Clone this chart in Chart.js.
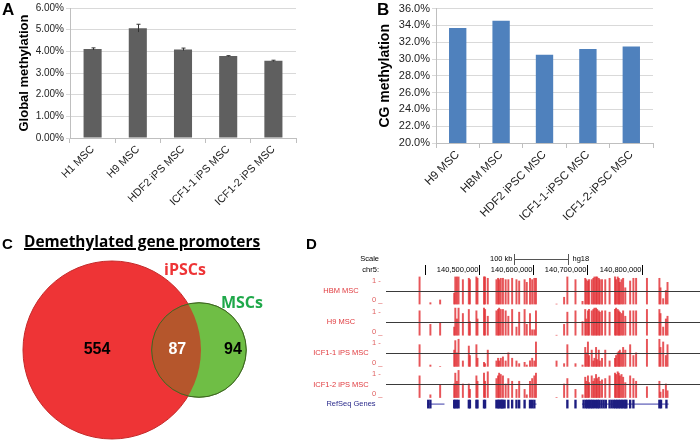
<!DOCTYPE html>
<html><head><meta charset="utf-8">
<script src="https://cdn.jsdelivr.net/npm/chart.js@4.4.1/dist/chart.umd.min.js"></script>
<style>
html,body{margin:0;padding:0;background:#fff;}
body{width:700px;height:442px;position:relative;overflow:hidden;font-family:"Liberation Sans",Arial,sans-serif;}
canvas{position:absolute;}
.lbl{position:absolute;font-weight:bold;color:#000;line-height:1;z-index:2;white-space:nowrap;}
</style></head><body>
<div class="lbl" style="left:2px;top:1px;font-size:17px">A</div>
<div class="lbl" style="left:377px;top:1px;font-size:17px">B</div>
<div class="lbl" style="left:2px;top:236px;font-size:15px">C</div>
<div class="lbl" style="left:306px;top:236px;font-size:15px">D</div>
<div class="lbl" id="ctitle" style="left:24px;top:234px;font-size:15.4px;font-family:'Open Sans',sans-serif;text-decoration:underline;text-decoration-thickness:1.5px;text-underline-offset:1px">Demethylated gene promoters</div>
<canvas id="cA" width="350" height="220" style="left:0;top:0"></canvas>
<canvas id="cB" width="350" height="220" style="left:350px;top:0"></canvas>
<canvas id="cC" width="300" height="200" style="left:0;top:250px"></canvas>
<canvas id="cD" width="400" height="190" style="left:300px;top:228px"></canvas>
<script>
// ---------- DATA ----------
const catA = ['H1 MSC','H9 MSC','HDF2 iPS MSC','ICF1-1 iPS MSC','ICF1-2 iPS MSC'];
const valA = [4.11, 5.07, 4.09, 3.78, 3.56];
const errA = [0.05, 0.18, 0.06, 0.02, 0.03];

const catB = ['H9 MSC','HBM MSC','HDF2 iPSC MSC','ICF1-1-iPSC MSC','ICF1-2-iPSC MSC'];
const valB = [33.7, 34.55, 30.5, 31.2, 31.5];

const vennSets = ['iPSCs','MSCs'];
const vennOnly = [554, 94];
const vennShared = 87;

const trackNames = ['HBM MSC','H9 MSC','ICF1-1 iPS MSC','ICF1-2 iPS MSC'];
const dPos = [140390,140410,140428,140454,140456,140459,140462,140470,140481,140483,140495,140497,140509,140511,140516,140532,140535,140537,140540,140544,140549,140554,140561,140569,140574,140584,140588,140594,140598,140602,140605,140643,140657,140663,140678,140691,140696,140698,140701,140703,140708,140711,140713,140716,140718,140721,140723,140727,140733,140741,140751,140753,140756,140758,140760,140763,140766,140770,140779,140785,140790,140810,140833,140835,140840,140845,140848];
const dHBM = [1.0,0.05,0.15,0.4,1.0,1.0,1.0,0.9,0.95,0.9,1.0,0.95,1.0,1.0,0.95,0.9,0.95,0.9,0.95,0.95,0.9,0.9,0.95,0.9,0.85,0.9,0.8,0.95,0.9,0.95,0.95,0,0.25,1.0,0.9,0.1,0.95,0.9,0.85,0.9,0.9,0.95,1.0,1.0,1.0,0.95,0.9,0.9,0.9,0.95,1.0,0.9,1.0,0.95,0.8,0.9,0.95,0.6,0.85,0.95,0.95,0.95,0.95,0.6,0.2,0.5,0.8];
const dH9 = [0.9,0.4,0.45,0.3,1.0,0.6,1.0,0.8,0.95,0.5,0.9,0.6,1.0,0.95,0.7,0.9,0.95,1.0,0.95,0.95,0.9,0.7,0.95,0.3,0.85,0.95,0.4,0.8,0.2,0.2,0.9,0,0.4,0.85,0.9,0.5,0.95,0.6,0.9,0.95,0.9,0.95,1.0,1.0,0.95,0.9,0.85,0.9,0.9,0.85,0.95,1.0,0.95,0.9,0.85,0.8,0.9,0.7,0.9,0.9,0.9,0.95,0.95,0.8,0.3,0.6,0.7];
const dICF11 = [0.8,0.05,0,0.6,0.95,0.5,1.0,0.2,0.75,0.4,0.8,0.3,0.15,0.1,0.6,0.2,0.3,0.2,0.3,0.35,0.2,0.5,0.3,0.2,0.1,0.15,0.05,0.2,0.3,0.2,0.9,0.2,0.1,0.8,0.1,0.05,0.7,0.5,0.9,0.4,0.6,0.2,0.3,0.7,0.25,0.6,0.2,0.3,0.6,0.2,0.3,0.4,0.5,0.55,0.6,0.5,0.7,0.6,0.8,0.4,0.5,1.0,1.0,0.7,0.9,0.4,0.8];
const dICF12 = [0.8,0.1,0.45,0.5,0.9,0.6,1.0,0.5,0.5,0.3,0.8,0.6,0.9,0.6,0.95,0.7,0.8,0.9,0.85,0.8,0.5,0.7,0.6,0.3,0.6,0.3,0.1,0.6,0.7,0.8,0.9,0,0.5,0.7,0.3,0.1,0.75,0.6,0.8,0.55,0.8,0.6,0.7,0.85,0.7,0.75,0.6,0.65,0.7,0.8,0.9,0.85,0.95,0.9,0.8,0.85,0.75,0.55,0.8,0.7,0.6,0.4,0.6,0.2,0.3,0.5,0.25];
const exonPos = [140406,140410,140454,140456,140459,140462,140481,140483,140495,140497,140509,140511,140532,140535,140537,140540,140542,140544,140547,140554,140561,140569,140574,140584,140594,140598,140602,140663,140678,140693,140697,140700,140703,140706,140709,140712,140716,140719,140722,140726,140730,140734,140741,140745,140749,140752,140755,140758,140761,140764,140767,140770,140772,140779,140785,140833,140836,140846];
const geneSpans = [[140404,140436],[140592,140606],[140690,140850]];
const chrTicks = [140400,140500,140600,140700,140800];
const scaleBar = [140564,140664];

// ---------- COMMON ----------
const FAM = '"Liberation Sans", Arial, sans-serif';
Chart.defaults.font.family = FAM;
Chart.defaults.animation = false;

const errorBars = {
  id:'errorBars',
  afterDatasetsDraw(chart, args, opts){
    if(!opts.err) return;
    const {ctx} = chart; const ys = chart.scales.y;
    const meta = chart.getDatasetMeta(0);
    const vals = chart.data.datasets[0].data;
    ctx.save(); ctx.strokeStyle='#333'; ctx.lineWidth=1;
    meta.data.forEach((bar,i)=>{
      const t = ys.getPixelForValue(vals[i]+opts.err[i]);
      const b = ys.getPixelForValue(vals[i]-opts.err[i]);
      const x = Math.round(bar.x)+0.5;
      ctx.beginPath(); ctx.moveTo(x,t); ctx.lineTo(x,b);
      ctx.moveTo(x-2,t); ctx.lineTo(x+2,t); ctx.stroke();
    });
    ctx.restore();
  }
};

function barChart(id, labels, values, color, yOpts, layoutPad, yWidth, xHeight, titleText, titleSize, titlePad, xTickSize, err){
  return new Chart(document.getElementById(id), {
    type:'bar',
    data:{labels, datasets:[{data:values, backgroundColor:color, barPercentage:0.4, categoryPercentage:1}]},
    options:{
      responsive:false,
      layout:{padding:layoutPad},
      plugins:{legend:{display:false}, tooltip:{enabled:false}, errorBars:{err}},
      scales:{
        x:{
          grid:{display:true, drawOnChartArea:false, drawTicks:true, tickLength:5, color:'#bfbfbf', offset:true},
          border:{color:'#bfbfbf'},
          ticks:{autoSkip:false, minRotation:45, maxRotation:45, font:{size:xTickSize}, color:'#222', padding:0},
          afterFit(s){ s.height = xHeight; }
        },
        y:Object.assign({
          grid:{color:'#d9d9d9', tickLength:4},
          border:{color:'#bfbfbf'},
          title:{display:true, text:titleText, font:{size:titleSize, weight:'bold'}, color:'#000', padding:{top:titlePad, bottom:0}},
          afterFit(s){ s.width = yWidth; }
        }, yOpts)
      }
    },
    plugins: err ? [errorBars] : []
  });
}

// Panel A
barChart('cA', catA, valA, '#5f5f5f', {min:0, max:6, ticks:{stepSize:1, callback:v=>v.toFixed(2)+'%', font:{size:10}, color:'#222', padding:2}},
  {left:0, top:6, right:54, bottom:0}, 70, 82, 'Global methylation', 13, 17, 10.8, errA);

// Panel B
barChart('cB', catB, valB, '#4f81bd', {min:20, max:36, ticks:{stepSize:2, callback:v=>v.toFixed(1)+'%', font:{size:11}, color:'#222', padding:2}},
  {left:0, top:6, right:47, bottom:0}, 86, 77, 'CG methylation', 14, 27, 11.5, null);

// Panel C (Venn)
const vennTotals = vennOnly.map(n=>n+vennShared);
const vennPlugin = {
  id:'venn',
  afterDatasetsDraw(chart){
    const {ctx} = chart;
    const [a,b] = chart.getDatasetMeta(0).data;
    const ra = a.options.radius, rb = b.options.radius;
    ctx.save();
    ctx.beginPath(); ctx.arc(a.x,a.y,ra,0,Math.PI*2); ctx.clip();
    ctx.beginPath(); ctx.arc(b.x,b.y,rb,0,Math.PI*2);
    ctx.fillStyle='#b5562c'; ctx.fill();
    ctx.restore();
    ctx.save();
    ctx.beginPath(); ctx.arc(b.x,b.y,rb,0,Math.PI*2);
    ctx.strokeStyle='rgba(60,90,30,0.8)'; ctx.lineWidth=1; ctx.stroke();
    ctx.textAlign='center'; ctx.textBaseline='middle';
    ctx.font='bold 16px '+FAM;
    ctx.fillStyle='#000'; ctx.fillText(String(vennOnly[0]), a.x-15, a.y);
    ctx.fillStyle='#fff'; ctx.fillText(String(vennShared), ((b.x-rb)+(a.x+ra))/2+1, a.y);
    ctx.fillStyle='#000'; ctx.fillText(String(vennOnly[1]), b.x+34, a.y);
    ctx.font='bold 16px "Open Sans", sans-serif';
    ctx.fillStyle='#ee3436'; ctx.fillText(vennSets[0], a.x+73, a.y-80);
    ctx.fillStyle='#1fa84a'; ctx.fillText(vennSets[1], b.x+43, a.y-47);
    ctx.restore();
  }
};
new Chart(document.getElementById('cC'), {
  type:'bubble',
  data:{datasets:[{
    data: vennTotals.map((n,i)=>({x:i, y:0, r:Math.sqrt(n)*3.515})),
    backgroundColor:['#ee3436','#6fbe45'],
    borderColor:['#c42a2a','#4d8f30'],
    borderWidth:1, clip:false
  }]},
  options:{responsive:false, layout:{padding:0, autoPadding:false},
    plugins:{legend:{display:false}, tooltip:{enabled:false}},
    scales:{x:{display:false, min:-1.287, max:2.161}, y:{display:false, min:-1, max:1}}},
  plugins:[vennPlugin]
});

// Panel D (genome browser tracks)
const trackBase = [3.4, 2.4, 1.4, 0.4];
const trackVals = [dHBM, dH9, dICF11, dICF12];
const hScale = 0.87;
const dDatasets = trackVals.map((vals,k)=>({
  type:'bar',
  data: dPos.map((p,i)=>({x:p, y:[trackBase[k], trackBase[k]+hScale*vals[i]]})),
  backgroundColor:'rgba(226,48,52,0.82)', barThickness:1.3, grouped:false
}));
dDatasets.push({
  type:'bar',
  data: exonPos.map(p=>({x:p, y:[0.06, 0.32]})),
  backgroundColor:'#1d1d80', barThickness:1.7, grouped:false
});
const intronData = [];
geneSpans.forEach(([s,e])=>{ intronData.push({x:s,y:0.19},{x:e,y:0.19},{x:e,y:null}); });
dDatasets.push({type:'line', data:intronData, borderColor:'#3a3aa8', borderWidth:1, pointRadius:0, spanGaps:false, fill:false});

const trackPlugin = {
  id:'tracks',
  afterDatasetsDraw(chart){
    const {ctx, chartArea:ca, scales:{x,y}} = chart;
    ctx.save();
    ctx.strokeStyle='#3a3a3a'; ctx.lineWidth=1;
    trackBase.forEach(b=>{
      const py = Math.round(y.getPixelForValue(b+0.42))+0.5;
      ctx.beginPath(); ctx.moveTo(ca.left,py); ctx.lineTo(ca.right,py); ctx.stroke();
    });
    ctx.font='7.5px '+FAM; ctx.textBaseline='middle';
    trackBase.forEach((b,k)=>{
      ctx.fillStyle='#e03a3e'; ctx.textAlign='center';
      ctx.fillText(trackNames[k], 41, y.getPixelForValue(b+0.42));
      ctx.textAlign='left'; ctx.fillStyle='#e06060';
      ctx.fillText('1 -', 72, y.getPixelForValue(b+0.75));
      ctx.fillText('0 _', 72, y.getPixelForValue(b+0.12));
    });
    ctx.fillStyle='#2b2b8c'; ctx.textAlign='center';
    ctx.fillText('RefSeq Genes', 51, y.getPixelForValue(0.19));
    // header
    ctx.fillStyle='#000'; ctx.textAlign='right';
    ctx.fillText('Scale', 79, 31);
    ctx.fillText('chr5:', 79, 42);
    const s0 = Math.round(x.getPixelForValue(scaleBar[0]))+0.5, s1 = Math.round(x.getPixelForValue(scaleBar[1]))+0.5;
    ctx.fillText(((scaleBar[1]-scaleBar[0]))+' kb', s0-2, 31);
    ctx.textAlign='left'; ctx.fillText('hg18', s1+4, 31);
    ctx.strokeStyle='#555';
    ctx.beginPath(); ctx.moveTo(s0,31.5); ctx.lineTo(s1,31.5);
    ctx.moveTo(s0,26); ctx.lineTo(s0,37); ctx.moveTo(s1,26); ctx.lineTo(s1,37); ctx.stroke();
    ctx.strokeStyle='#000';
    chrTicks.forEach((t,i)=>{
      const px = Math.round(x.getPixelForValue(t))+0.5;
      ctx.beginPath(); ctx.moveTo(px,37); ctx.lineTo(px,47); ctx.stroke();
      if(i>0){ ctx.textAlign='right'; ctx.fillText((t*1000).toLocaleString('en-US'), px-1, 42); }
    });
    ctx.restore();
  }
};
new Chart(document.getElementById('cD'), {
  type:'bar',
  data:{datasets:dDatasets},
  options:{responsive:false,
    layout:{padding:{left:86, right:0, top:48, bottom:8}, autoPadding:false},
    plugins:{legend:{display:false}, tooltip:{enabled:false}},
    scales:{x:{type:'linear', display:false, min:140386, max:140850}, y:{display:false, min:0, max:4.3}}},
  plugins:[trackPlugin]
});
</script>
</body></html>
